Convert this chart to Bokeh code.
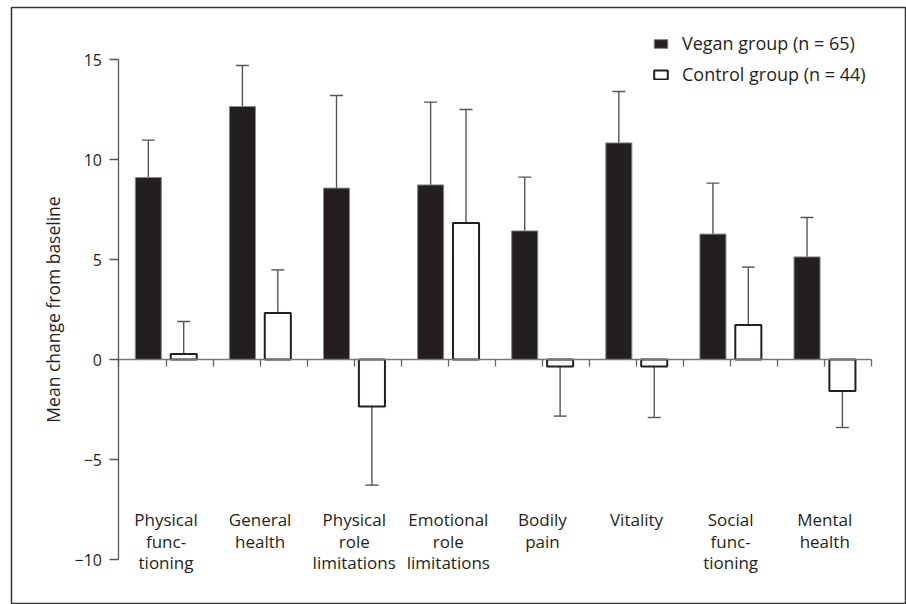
from bokeh.plotting import figure
from bokeh.models import Range1d, FixedTicker, Legend, LegendItem
from bokeh.core.properties import value
from bokeh.embed import file_html
from bokeh.resources import INLINE

categories = [["Physical", "func-", "tioning"], ["General", "health"],
              ["Physical", "role", "limitations"], ["Emotional", "role", "limitations"],
              ["Bodily", "pain"], ["Vitality"], ["Social", "func-", "tioning"],
              ["Mental", "health"]]
vegan = [9.1, 12.65, 8.57, 8.73, 6.43, 10.83, 6.27, 5.13]
vegan_err = [1.87, 2.05, 4.63, 4.14, 2.69, 2.57, 2.55, 1.97]
control = [0.28, 2.33, -2.35, 6.82, -0.35, -0.35, 1.73, -1.58]
control_err = [1.62, 2.15, 3.93, 5.68, 2.48, 2.55, 2.89, 1.82]
y_ticks = [-10, -5, 0, 5, 10, 15]
legend_labels = ["Vegan group (n = 65)", "Control group (n = 44)"]

TXT = "#231f20"
FONT = "Open Sans"
W, H = 906, 604

p = figure(width=W, height=H, output_backend="svg", toolbar_location=None,
           x_range=Range1d(-1.142, 8.369), y_range=Range1d(-12.25, 17.6),
           min_border_left=11, min_border_right=0, min_border_top=7, min_border_bottom=0)
p.grid.visible = False
p.background_fill_color = "white"
p.border_fill_color = "white"
p.outline_line_color = "#333333"
p.outline_line_width = 1.5

n = len(vegan)
off, bw, cap = 0.188, 0.277, 0.069
xv = [i + 0.5 - off for i in range(n)]
xc = [i + 0.5 + off for i in range(n)]

def ends(vals, errs):
    return [v + (e if v >= 0 else -e) for v, e in zip(vals, errs)]

ve = ends(vegan, vegan_err)
ce = ends(control, control_err)

# error bars (one-sided, away from zero)
for xs, vals, es in ((xv, vegan, ve), (xc, control, ce)):
    p.segment(x0=xs, y0=vals, x1=xs, y1=es, line_color="#555555", line_width=1.4)
    p.segment(x0=[x - cap for x in xs], y0=es, x1=[x + cap for x in xs], y1=es,
              line_color="#555555", line_width=1.4)

rv = p.vbar(x=xv, top=vegan, bottom=0, width=bw, fill_color=TXT, line_color="#8a8a8a", line_width=1)
rc = p.vbar(x=xc, top=control, bottom=0, width=bw, fill_color="white", line_color=TXT, line_width=2)

# axes
p.yaxis.fixed_location = 0
p.yaxis.ticker = FixedTicker(ticks=y_ticks)
p.yaxis.bounds = (min(y_ticks), max(y_ticks))
p.yaxis.major_label_overrides = {t: (str(t).replace("-", "\u2212")) for t in y_ticks}
p.yaxis.major_tick_out = 9
p.yaxis.major_tick_in = 0
p.yaxis.minor_tick_out = 0
p.yaxis.minor_tick_in = 0
p.yaxis.axis_line_color = "#555555"
p.yaxis.axis_line_width = 1.3
p.yaxis.major_tick_line_color = "#555555"
p.yaxis.major_tick_line_width = 1.3
p.yaxis.major_label_text_font = FONT
p.yaxis.major_label_text_font_size = "16px"
p.yaxis.major_label_text_color = TXT
p.yaxis.major_label_standoff = 8
p.yaxis.axis_label = "Mean change from baseline"
p.yaxis.axis_label_text_font = FONT
p.yaxis.axis_label_text_font_size = "17.5px"
p.yaxis.axis_label_text_font_style = "normal"
p.yaxis.axis_label_text_color = TXT
p.yaxis.axis_label_standoff = 6

p.xaxis.fixed_location = 0
p.xaxis.ticker = FixedTicker(ticks=[i * 0.5 for i in range(2 * n + 1)])
p.xaxis.bounds = (0, n)
p.xaxis.major_tick_out = 7
p.xaxis.major_tick_in = 0
p.xaxis.minor_tick_out = 0
p.xaxis.minor_tick_in = 0
p.xaxis.axis_line_color = "#777777"
p.xaxis.axis_line_width = 1.3
p.xaxis.major_tick_line_color = "#666666"
p.xaxis.major_tick_line_width = 1.3
p.xaxis.major_label_text_color = None

# category labels
lx, ly, lt = [], [], []
for i, lines in enumerate(categories):
    for j, t in enumerate(lines):
        lx.append(i + 0.5)
        ly.append(-8.0 - 1.08 * j)
        lt.append(t)
p.text(x=lx, y=ly, text=lt, text_align="center", text_baseline="middle",
       text_font=value(FONT), text_font_size="17px", text_color=TXT)

legend = Legend(items=[LegendItem(label=legend_labels[0], renderers=[rv]),
                       LegendItem(label=legend_labels[1], renderers=[rc])],
                location=(641, 518))
legend.label_text_font = FONT
legend.label_text_font_size = "18px"
legend.label_text_color = TXT
legend.glyph_width = 17
legend.glyph_height = 11
legend.label_height = 20
legend.spacing = 7
legend.padding = 0
legend.margin = 0
legend.border_line_color = None
legend.background_fill_alpha = 0
legend.label_standoff = 13
p.add_layout(legend, "center")

open("out.html", "w").write(file_html(p, INLINE))
